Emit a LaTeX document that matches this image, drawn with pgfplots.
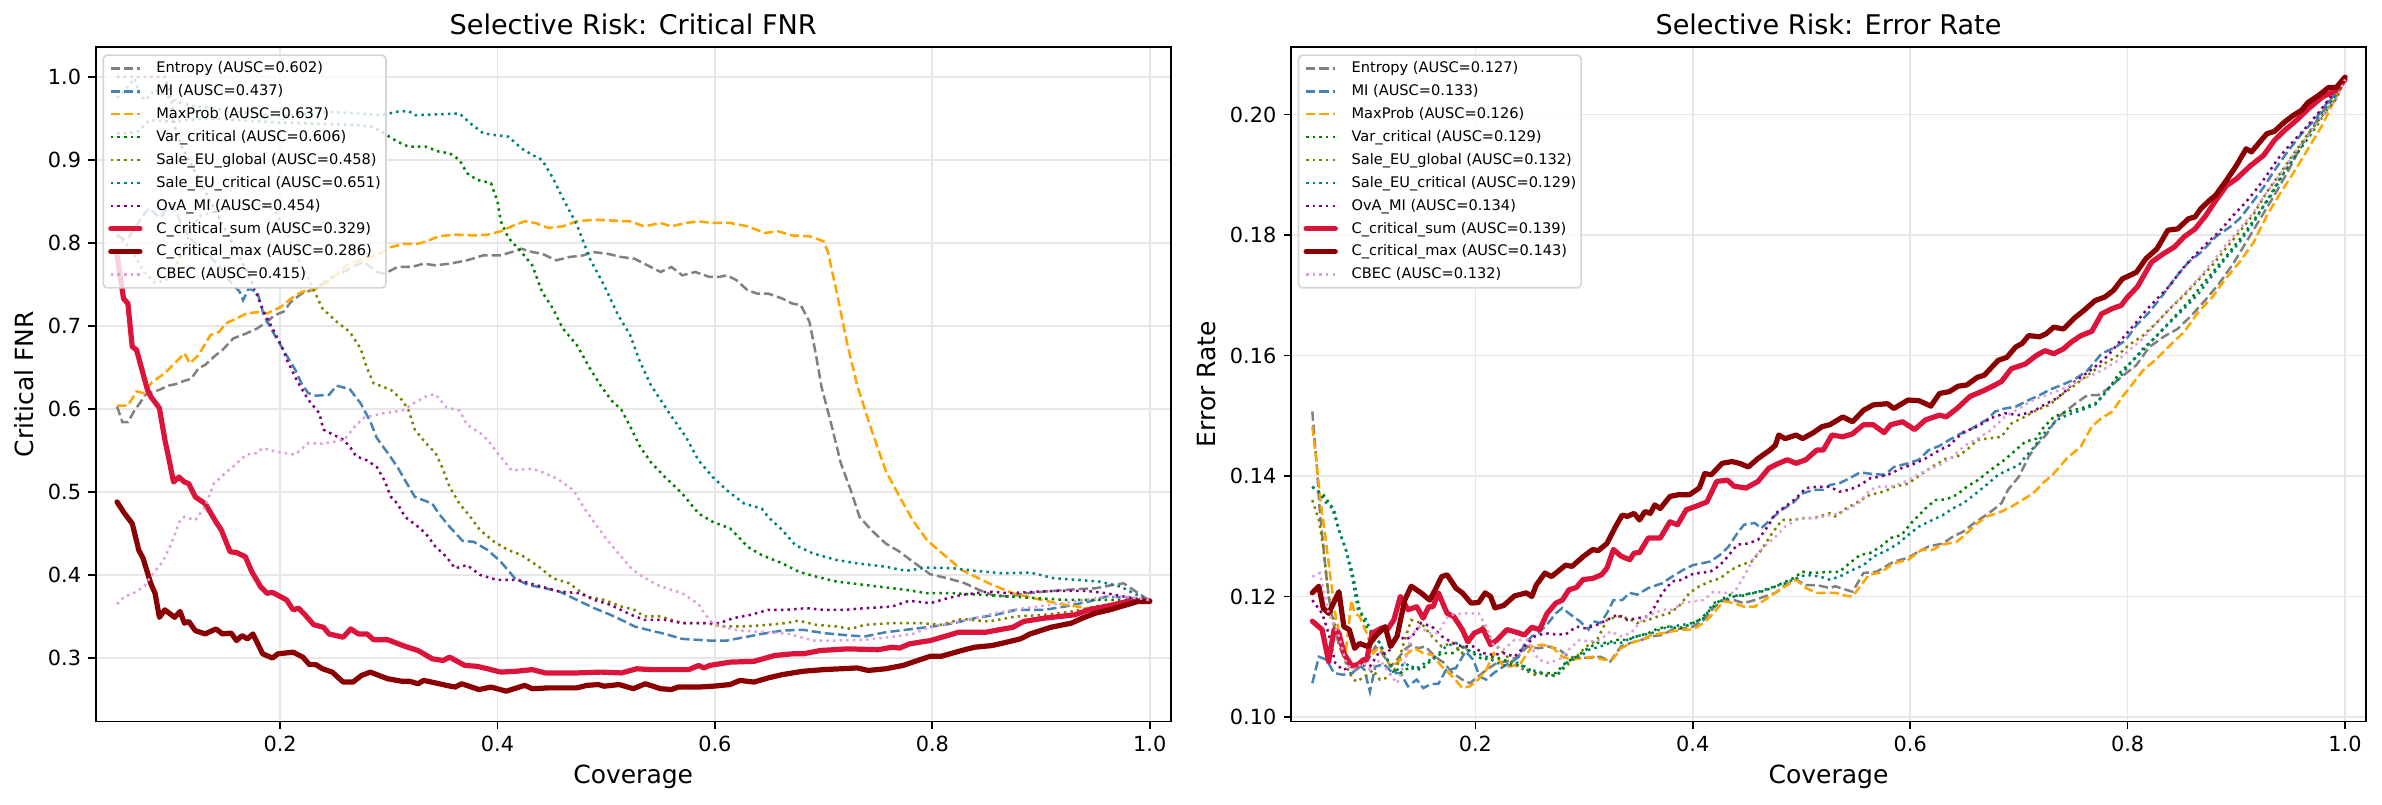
\documentclass[border=0pt]{standalone}
\usepackage{fontspec}
\setmainfont{DejaVu Sans}
\usepackage{pgfplots}
\pgfplotsset{compat=1.18}

\definecolor{cEnt}{HTML}{808080}
\definecolor{cMI}{HTML}{4682B4}
\definecolor{cMax}{HTML}{FFA500}
\definecolor{cVar}{HTML}{008000}
\definecolor{cSEg}{HTML}{808000}
\definecolor{cSEc}{HTML}{008080}
\definecolor{cOvA}{HTML}{800080}
\definecolor{cSum}{HTML}{DC143C}
\definecolor{cMaxC}{HTML}{8B0000}
\definecolor{cCBEC}{HTML}{DDA0DD}
\definecolor{gridc}{RGB}{231,231,231}
\definecolor{legc}{RGB}{214,214,214}

\pgfplotsset{
  dsh/.style={line width=1.2pt, dash pattern=on 4.44pt off 1.92pt},
  dtt/.style={line width=1.2pt, dash pattern=on 1.2pt off 1.98pt},
  thk/.style={line width=2.5pt, line join=round, line cap=round},
  panel/.style={
    scale only axis, width=516pt, height=323.76pt,
    xmin=0.0304, xmax=1.0193,
    xtick={0.2,0.4,0.6,0.8,1.0},
    tick pos=left, tick align=outside,
    major tick length=3.5pt,
    tick style={black, line width=0.8pt},
    axis line style={line width=0.8pt},
    grid=major, grid style={line width=0.8pt, color=gridc},
    /pgf/number format/assume math mode=true,
    scaled ticks=false,
    tick label style={font=\fontsize{10}{12}\selectfont},
    xticklabel style={/pgf/number format/.cd, fixed, fixed zerofill, precision=1},
    label style={font=\fontsize{12}{14}\selectfont},
    title style={font=\fontsize{13}{15}\selectfont, at={(axis description cs:0.5,1)}, anchor=base, yshift=-0.2pt},
    xlabel style={at={(axis description cs:0.5,0)}, anchor=center, yshift=-26.7pt},
    xlabel={Coverage},
    legend cell align=left,
    legend image code/.code={\draw[#1] (0pt,0pt) -- (14pt,0pt); \path (20.6pt,0pt);},
    legend style={
      at={(axis description cs:0,1)}, anchor=north west, xshift=3.2pt, yshift=-3.5pt,
      font=\fontsize{7}{8}\selectfont,
      draw=legc, line width=0.8pt, fill=white, fill opacity=0.8, draw opacity=1, text opacity=1,
      rounded corners=2pt,
      inner xsep=2.4pt, inner ysep=2.8pt,
      row sep=3.9pt, column sep=0pt,
      nodes={inner xsep=0pt, inner ysep=0pt, text height=5.6pt, text depth=1.5pt},
    },
  },
}

\begin{document}
\begin{tikzpicture}
\useasboundingbox (0,0) rectangle (1143.36pt,385.92pt);

% ---------------- Critical FNR ----------------
\begin{axis}[panel, at={(45.94pt,39.6pt)}, anchor=south west,
  ymin=0.2235, ymax=1.036,
  ytick={0.3,0.4,0.5,0.6,0.7,0.8,0.9,1.0},
  yticklabel style={/pgf/number format/.cd, fixed, fixed zerofill, precision=1},
  title={Selective Risk: Critical FNR},
  ylabel={Critical FNR},
  ylabel style={at={(axis description cs:-0.0667,0.5)}, anchor=center},
]
\addplot[cEnt, dsh] coordinates {(0.050,0.603) (0.055,0.584) (0.060,0.584) (0.066,0.598) (0.071,0.607) (0.076,0.617) (0.082,0.620) (0.089,0.623) (0.097,0.628) (0.104,0.630) (0.112,0.634) (0.118,0.636) (0.125,0.649) (0.131,0.653) (0.141,0.665) (0.147,0.671) (0.157,0.685) (0.169,0.691) (0.179,0.697) (0.188,0.705) (0.195,0.713) (0.203,0.717) (0.210,0.729) (0.220,0.739) (0.233,0.745) (0.245,0.757) (0.258,0.765) (0.268,0.772) (0.277,0.777) (0.289,0.765) (0.296,0.763) (0.308,0.771) (0.321,0.771) (0.332,0.775) (0.343,0.773) (0.356,0.775) (0.372,0.779) (0.387,0.785) (0.403,0.785) (0.413,0.789) (0.422,0.793) (0.432,0.789) (0.441,0.787) (0.454,0.779) (0.466,0.783) (0.479,0.785) (0.488,0.789) (0.501,0.787) (0.514,0.783) (0.526,0.781) (0.541,0.771) (0.550,0.765) (0.560,0.771) (0.570,0.761) (0.582,0.765) (0.595,0.759) (0.604,0.759) (0.611,0.761) (0.620,0.755) (0.630,0.743) (0.639,0.739) (0.649,0.739) (0.662,0.733) (0.671,0.727) (0.679,0.725) (0.687,0.705) (0.693,0.665) (0.698,0.627) (0.706,0.587) (0.716,0.534) (0.725,0.502) (0.733,0.470) (0.744,0.454) (0.757,0.438) (0.770,0.428) (0.782,0.416) (0.798,0.401) (0.814,0.396) (0.830,0.390) (0.843,0.382) (0.855,0.376) (0.871,0.374) (0.887,0.378) (0.903,0.380) (0.922,0.382) (0.935,0.383) (0.950,0.384) (0.966,0.388) (0.976,0.390) (0.985,0.382) (1.000,0.369)};
\addlegendentry{Entropy (AUSC=0.602)}
\addplot[cMI, dsh] coordinates {(0.050,0.810) (0.055,0.805) (0.060,0.805) (0.065,0.815) (0.070,0.825) (0.075,0.835) (0.080,0.842) (0.085,0.835) (0.090,0.830) (0.095,0.840) (0.100,0.845) (0.105,0.835) (0.110,0.820) (0.118,0.805) (0.125,0.795) (0.135,0.785) (0.145,0.770) (0.155,0.752) (0.163,0.741) (0.166,0.731) (0.171,0.745) (0.179,0.741) (0.185,0.713) (0.195,0.689) (0.204,0.669) (0.214,0.647) (0.220,0.630) (0.226,0.619) (0.233,0.616) (0.245,0.617) (0.252,0.628) (0.264,0.624) (0.274,0.607) (0.283,0.585) (0.289,0.565) (0.299,0.547) (0.308,0.530) (0.315,0.514) (0.324,0.494) (0.340,0.486) (0.346,0.474) (0.356,0.458) (0.368,0.441) (0.378,0.440) (0.391,0.430) (0.403,0.416) (0.416,0.396) (0.428,0.388) (0.444,0.384) (0.457,0.380) (0.473,0.370) (0.489,0.360) (0.504,0.352) (0.517,0.344) (0.526,0.338) (0.538,0.334) (0.554,0.329) (0.570,0.323) (0.595,0.321) (0.611,0.321) (0.627,0.325) (0.643,0.329) (0.662,0.333) (0.681,0.334) (0.700,0.330) (0.725,0.327) (0.738,0.326) (0.757,0.331) (0.782,0.335) (0.801,0.338) (0.820,0.342) (0.839,0.348) (0.858,0.352) (0.877,0.358) (0.903,0.358) (0.922,0.362) (0.944,0.368) (0.960,0.374) (0.979,0.373) (1.000,0.369)};
\addlegendentry{MI (AUSC=0.437)}
\addplot[cMax, dsh] coordinates {(0.050,0.604) (0.060,0.604) (0.068,0.621) (0.075,0.619) (0.082,0.632) (0.094,0.643) (0.103,0.655) (0.112,0.667) (0.117,0.655) (0.125,0.665) (0.136,0.689) (0.144,0.693) (0.150,0.703) (0.160,0.709) (0.169,0.715) (0.182,0.717) (0.188,0.715) (0.201,0.723) (0.210,0.733) (0.220,0.741) (0.233,0.745) (0.245,0.753) (0.261,0.773) (0.277,0.781) (0.289,0.785) (0.302,0.795) (0.315,0.799) (0.327,0.799) (0.337,0.803) (0.346,0.808) (0.362,0.810) (0.378,0.809) (0.391,0.810) (0.403,0.814) (0.413,0.820) (0.425,0.826) (0.435,0.824) (0.447,0.818) (0.460,0.820) (0.473,0.826) (0.489,0.828) (0.504,0.827) (0.522,0.826) (0.535,0.820) (0.550,0.824) (0.560,0.820) (0.573,0.824) (0.585,0.826) (0.598,0.824) (0.614,0.824) (0.630,0.820) (0.646,0.812) (0.658,0.814) (0.671,0.809) (0.687,0.808) (0.700,0.802) (0.704,0.789) (0.712,0.741) (0.722,0.677) (0.731,0.628) (0.744,0.575) (0.757,0.526) (0.770,0.494) (0.782,0.466) (0.795,0.442) (0.811,0.424) (0.827,0.406) (0.852,0.390) (0.874,0.378) (0.900,0.370) (0.922,0.364) (0.944,0.360) (0.966,0.362) (1.000,0.369)};
\addlegendentry{MaxProb (AUSC=0.637)}
\addplot[cVar, dtt] coordinates {(0.050,0.932) (0.060,0.932) (0.070,0.935) (0.080,0.948) (0.100,0.946) (0.130,0.950) (0.160,0.948) (0.200,0.945) (0.245,0.943) (0.270,0.942) (0.285,0.940) (0.293,0.934) (0.308,0.922) (0.318,0.916) (0.334,0.916) (0.346,0.910) (0.356,0.908) (0.365,0.900) (0.372,0.884) (0.381,0.876) (0.394,0.872) (0.400,0.850) (0.403,0.826) (0.410,0.806) (0.422,0.789) (0.432,0.773) (0.441,0.741) (0.451,0.721) (0.460,0.697) (0.473,0.677) (0.485,0.649) (0.495,0.628) (0.505,0.610) (0.514,0.599) (0.522,0.579) (0.531,0.555) (0.541,0.536) (0.554,0.518) (0.570,0.498) (0.585,0.474) (0.598,0.464) (0.614,0.456) (0.623,0.444) (0.630,0.434) (0.643,0.424) (0.662,0.414) (0.677,0.404) (0.693,0.398) (0.712,0.392) (0.738,0.388) (0.757,0.385) (0.776,0.382) (0.795,0.378) (0.820,0.378) (0.846,0.376) (0.871,0.374) (0.897,0.372) (0.922,0.370) (0.947,0.370) (0.973,0.370) (1.000,0.369)};
\addlegendentry{Var\_critical (AUSC=0.606)}
\addplot[cSEg, dtt] coordinates {(0.050,0.810) (0.058,0.800) (0.066,0.785) (0.075,0.765) (0.085,0.752) (0.095,0.755) (0.105,0.775) (0.115,0.805) (0.125,0.832) (0.140,0.838) (0.160,0.843) (0.180,0.846) (0.195,0.840) (0.205,0.815) (0.215,0.785) (0.226,0.757) (0.239,0.721) (0.252,0.705) (0.264,0.693) (0.274,0.673) (0.280,0.649) (0.286,0.631) (0.302,0.623) (0.312,0.611) (0.318,0.599) (0.324,0.575) (0.334,0.559) (0.343,0.547) (0.349,0.530) (0.356,0.506) (0.365,0.486) (0.375,0.470) (0.384,0.454) (0.397,0.440) (0.410,0.430) (0.422,0.424) (0.438,0.410) (0.451,0.396) (0.466,0.390) (0.482,0.374) (0.498,0.370) (0.514,0.362) (0.526,0.358) (0.535,0.350) (0.550,0.350) (0.570,0.342) (0.592,0.342) (0.608,0.338) (0.627,0.338) (0.649,0.340) (0.665,0.342) (0.677,0.345) (0.693,0.340) (0.712,0.338) (0.725,0.335) (0.738,0.340) (0.763,0.342) (0.789,0.342) (0.808,0.340) (0.827,0.347) (0.852,0.344) (0.877,0.350) (0.903,0.352) (0.928,0.356) (0.950,0.362) (0.973,0.366) (1.000,0.369)};
\addlegendentry{Sale\_EU\_global (AUSC=0.458)}
\addplot[cSEc, dtt] coordinates {(0.050,0.975) (0.058,0.985) (0.066,0.998) (0.071,0.978) (0.076,0.972) (0.085,0.985) (0.094,0.978) (0.105,0.970) (0.120,0.965) (0.140,0.962) (0.160,0.958) (0.180,0.955) (0.200,0.953) (0.220,0.955) (0.245,0.958) (0.270,0.956) (0.293,0.954) (0.308,0.958) (0.318,0.959) (0.324,0.954) (0.346,0.955) (0.365,0.956) (0.375,0.944) (0.387,0.932) (0.397,0.930) (0.410,0.928) (0.422,0.914) (0.432,0.906) (0.441,0.900) (0.451,0.878) (0.460,0.854) (0.473,0.822) (0.485,0.781) (0.498,0.749) (0.511,0.713) (0.522,0.689) (0.531,0.657) (0.541,0.629) (0.550,0.611) (0.560,0.591) (0.573,0.567) (0.585,0.538) (0.598,0.518) (0.611,0.502) (0.627,0.486) (0.643,0.480) (0.649,0.470) (0.662,0.454) (0.674,0.436) (0.690,0.426) (0.712,0.418) (0.731,0.414) (0.757,0.410) (0.776,0.405) (0.795,0.409) (0.820,0.408) (0.839,0.405) (0.865,0.402) (0.890,0.403) (0.912,0.396) (0.935,0.394) (0.954,0.392) (0.973,0.386) (0.985,0.378) (1.000,0.369)};
\addlegendentry{Sale\_EU\_critical (AUSC=0.651)}
\addplot[cOvA, dtt] coordinates {(0.050,1.000) (0.070,1.000) (0.094,1.000) (0.100,0.975) (0.103,0.940) (0.110,0.915) (0.120,0.890) (0.130,0.865) (0.140,0.840) (0.150,0.815) (0.160,0.790) (0.170,0.765) (0.177,0.743) (0.185,0.717) (0.201,0.677) (0.207,0.657) (0.216,0.633) (0.226,0.611) (0.236,0.595) (0.240,0.575) (0.252,0.567) (0.258,0.563) (0.264,0.555) (0.270,0.543) (0.280,0.538) (0.289,0.530) (0.296,0.514) (0.302,0.494) (0.308,0.486) (0.315,0.470) (0.327,0.458) (0.334,0.450) (0.343,0.434) (0.353,0.422) (0.361,0.408) (0.372,0.412) (0.384,0.400) (0.400,0.394) (0.419,0.394) (0.435,0.388) (0.457,0.380) (0.476,0.378) (0.489,0.370) (0.504,0.364) (0.523,0.352) (0.535,0.346) (0.554,0.346) (0.570,0.342) (0.604,0.342) (0.617,0.348) (0.633,0.352) (0.649,0.358) (0.665,0.358) (0.684,0.360) (0.700,0.358) (0.719,0.358) (0.738,0.360) (0.763,0.362) (0.779,0.369) (0.798,0.366) (0.814,0.372) (0.827,0.376) (0.852,0.380) (0.871,0.378) (0.897,0.380) (0.922,0.381) (0.941,0.381) (0.960,0.378) (0.976,0.374) (1.000,0.369)};
\addlegendentry{OvA\_MI (AUSC=0.454)}
\addplot[cSum, thk] coordinates {(0.050,0.785) (0.056,0.733) (0.060,0.727) (0.064,0.675) (0.068,0.671) (0.078,0.623) (0.081,0.615) (0.089,0.601) (0.094,0.563) (0.098,0.538) (0.102,0.512) (0.107,0.518) (0.112,0.512) (0.116,0.510) (0.122,0.494) (0.131,0.486) (0.141,0.464) (0.146,0.454) (0.154,0.428) (0.160,0.427) (0.168,0.422) (0.174,0.404) (0.182,0.386) (0.188,0.378) (0.193,0.379) (0.206,0.370) (0.212,0.358) (0.217,0.360) (0.223,0.352) (0.231,0.340) (0.240,0.337) (0.245,0.329) (0.258,0.325) (0.265,0.335) (0.272,0.329) (0.280,0.329) (0.286,0.322) (0.299,0.322) (0.315,0.314) (0.327,0.309) (0.340,0.299) (0.350,0.297) (0.356,0.301) (0.370,0.291) (0.381,0.290) (0.391,0.287) (0.403,0.283) (0.417,0.284) (0.432,0.286) (0.444,0.282) (0.473,0.282) (0.495,0.283) (0.514,0.282) (0.528,0.287) (0.541,0.286) (0.560,0.286) (0.576,0.286) (0.585,0.291) (0.590,0.288) (0.595,0.291) (0.614,0.295) (0.636,0.296) (0.655,0.303) (0.671,0.305) (0.681,0.305) (0.697,0.309) (0.722,0.311) (0.750,0.310) (0.763,0.313) (0.770,0.312) (0.779,0.317) (0.798,0.321) (0.814,0.327) (0.824,0.331) (0.849,0.331) (0.874,0.337) (0.884,0.344) (0.903,0.348) (0.931,0.352) (0.944,0.358) (0.966,0.364) (0.979,0.368) (1.000,0.369)};
\addlegendentry{C\_critical\_sum (AUSC=0.329)}
\addplot[cMaxC, thk] coordinates {(0.050,0.488) (0.057,0.474) (0.064,0.462) (0.070,0.430) (0.074,0.420) (0.081,0.390) (0.085,0.378) (0.089,0.349) (0.094,0.358) (0.103,0.349) (0.108,0.356) (0.112,0.342) (0.116,0.344) (0.122,0.333) (0.131,0.329) (0.141,0.335) (0.147,0.329) (0.155,0.330) (0.160,0.321) (0.165,0.327) (0.170,0.323) (0.175,0.329) (0.184,0.305) (0.193,0.300) (0.198,0.305) (0.212,0.307) (0.221,0.301) (0.227,0.292) (0.233,0.292) (0.239,0.287) (0.248,0.283) (0.258,0.271) (0.267,0.271) (0.275,0.279) (0.283,0.283) (0.299,0.275) (0.312,0.272) (0.319,0.272) (0.327,0.269) (0.332,0.273) (0.343,0.270) (0.353,0.267) (0.361,0.265) (0.367,0.269) (0.383,0.262) (0.394,0.265) (0.408,0.260) (0.425,0.267) (0.432,0.263) (0.447,0.264) (0.473,0.264) (0.482,0.267) (0.493,0.268) (0.498,0.266) (0.512,0.268) (0.525,0.263) (0.536,0.269) (0.550,0.263) (0.560,0.262) (0.566,0.265) (0.585,0.265) (0.598,0.266) (0.614,0.268) (0.623,0.273) (0.636,0.271) (0.649,0.276) (0.662,0.280) (0.681,0.284) (0.700,0.286) (0.731,0.288) (0.741,0.285) (0.757,0.287) (0.773,0.291) (0.782,0.295) (0.798,0.302) (0.808,0.302) (0.827,0.309) (0.839,0.313) (0.855,0.315) (0.865,0.318) (0.881,0.323) (0.890,0.329) (0.909,0.337) (0.928,0.342) (0.938,0.348) (0.950,0.354) (0.963,0.358) (0.976,0.363) (0.989,0.368) (1.000,0.368)};
\addlegendentry{C\_critical\_max (AUSC=0.286)}
\addplot[cCBEC, dtt] coordinates {(0.050,0.365) (0.057,0.374) (0.065,0.378) (0.075,0.386) (0.081,0.398) (0.092,0.416) (0.100,0.438) (0.108,0.466) (0.112,0.470) (0.122,0.466) (0.131,0.482) (0.139,0.510) (0.149,0.522) (0.158,0.532) (0.169,0.545) (0.179,0.547) (0.184,0.553) (0.195,0.549) (0.203,0.547) (0.214,0.545) (0.226,0.559) (0.239,0.558) (0.252,0.561) (0.259,0.563) (0.270,0.581) (0.278,0.590) (0.296,0.595) (0.312,0.598) (0.323,0.607) (0.334,0.615) (0.342,0.618) (0.346,0.613) (0.353,0.602) (0.365,0.598) (0.372,0.581) (0.384,0.571) (0.392,0.561) (0.400,0.547) (0.413,0.526) (0.432,0.528) (0.441,0.524) (0.455,0.516) (0.470,0.502) (0.479,0.482) (0.492,0.458) (0.501,0.442) (0.514,0.422) (0.523,0.408) (0.531,0.400) (0.547,0.388) (0.560,0.382) (0.570,0.378) (0.579,0.370) (0.585,0.365) (0.590,0.354) (0.598,0.342) (0.609,0.337) (0.623,0.333) (0.649,0.331) (0.668,0.329) (0.690,0.321) (0.712,0.321) (0.738,0.322) (0.760,0.325) (0.782,0.329) (0.798,0.337) (0.817,0.342) (0.836,0.347) (0.858,0.354) (0.874,0.358) (0.897,0.362) (0.919,0.366) (0.941,0.370) (0.960,0.374) (0.979,0.374) (1.000,0.370)};
\addlegendentry{CBEC (AUSC=0.415)}
\end{axis}

% ---------------- Error rate ----------------
\begin{axis}[panel, at={(619.68pt,39.6pt)}, anchor=south west,
  ymin=0.09925, ymax=0.2112,
  ytick={0.10,0.12,0.14,0.16,0.18,0.20},
  yticklabel style={/pgf/number format/.cd, fixed, fixed zerofill, precision=2},
  title={Selective Risk: Error Rate},
  ylabel={Error Rate},
  ylabel style={at={(axis description cs:-0.0784,0.5)}, anchor=center},
]
\addplot[cEnt, dsh] coordinates {(0.050,0.1507) (0.054,0.1421) (0.057,0.1338) (0.062,0.1250) (0.065,0.1200) (0.070,0.1150) (0.075,0.1117) (0.081,0.1090) (0.090,0.1078) (0.097,0.1087) (0.103,0.1100) (0.108,0.1117) (0.114,0.1106) (0.122,0.1084) (0.128,0.1095) (0.135,0.1112) (0.141,0.1120) (0.147,0.1114) (0.154,0.1117) (0.163,0.1100) (0.171,0.1090) (0.179,0.1073) (0.188,0.1062) (0.195,0.1056) (0.201,0.1065) (0.210,0.1078) (0.220,0.1090) (0.229,0.1092) (0.239,0.1100) (0.248,0.1117) (0.258,0.1114) (0.267,0.1117) (0.277,0.1112) (0.286,0.1100) (0.296,0.1098) (0.305,0.1098) (0.315,0.1100) (0.324,0.1092) (0.334,0.1117) (0.343,0.1123) (0.353,0.1128) (0.362,0.1134) (0.372,0.1136) (0.381,0.1145) (0.391,0.1147) (0.400,0.1150) (0.410,0.1161) (0.419,0.1181) (0.428,0.1194) (0.438,0.1194) (0.447,0.1189) (0.457,0.1194) (0.466,0.1200) (0.476,0.1206) (0.485,0.1219) (0.495,0.1228) (0.504,0.1219) (0.514,0.1219) (0.526,0.1214) (0.531,0.1217) (0.541,0.1211) (0.547,0.1208) (0.557,0.1239) (0.569,0.1241) (0.585,0.1258) (0.598,0.1264) (0.608,0.1275) (0.617,0.1283) (0.630,0.1288) (0.639,0.1299) (0.649,0.1308) (0.659,0.1322) (0.668,0.1333) (0.678,0.1346) (0.684,0.1355) (0.690,0.1377) (0.700,0.1399) (0.709,0.1432) (0.716,0.1451) (0.725,0.1468) (0.735,0.1496) (0.744,0.1509) (0.754,0.1523) (0.763,0.1534) (0.773,0.1534) (0.782,0.1545) (0.792,0.1561) (0.808,0.1584) (0.820,0.1614) (0.833,0.1631) (0.846,0.1644) (0.859,0.1667) (0.871,0.1691) (0.884,0.1719) (0.897,0.1752) (0.909,0.1788) (0.922,0.1827) (0.935,0.1866) (0.947,0.1904) (0.960,0.1949) (0.973,0.1987) (0.985,0.2020) (1.000,0.2058)};
\addlegendentry{Entropy (AUSC=0.127)}
\addplot[cMI, dsh] coordinates {(0.050,0.1056) (0.056,0.1100) (0.063,0.1095) (0.070,0.1073) (0.078,0.1070) (0.087,0.1073) (0.0935,0.1087) (0.098,0.1078) (0.103,0.1042) (0.108,0.1084) (0.116,0.1087) (0.124,0.1073) (0.131,0.1073) (0.138,0.1051) (0.146,0.1062) (0.152,0.1048) (0.160,0.1055) (0.166,0.1055) (0.173,0.1078) (0.182,0.1081) (0.191,0.1109) (0.198,0.1095) (0.204,0.1067) (0.210,0.1062) (0.217,0.1073) (0.226,0.1084) (0.234,0.1092) (0.240,0.1100) (0.245,0.1120) (0.252,0.1134) (0.258,0.1139) (0.267,0.1156) (0.274,0.1172) (0.280,0.1181) (0.286,0.1172) (0.296,0.1159) (0.304,0.1145) (0.308,0.1159) (0.315,0.1156) (0.321,0.1172) (0.327,0.1194) (0.335,0.1194) (0.342,0.1206) (0.349,0.1203) (0.359,0.1214) (0.372,0.1222) (0.381,0.1233) (0.391,0.1244) (0.400,0.1252) (0.416,0.1258) (0.425,0.1269) (0.433,0.1283) (0.441,0.1305) (0.447,0.1319) (0.457,0.1322) (0.463,0.1313) (0.471,0.1327) (0.482,0.1344) (0.492,0.1355) (0.501,0.1371) (0.511,0.1377) (0.520,0.1377) (0.526,0.1385) (0.535,0.1388) (0.544,0.1396) (0.554,0.1406) (0.566,0.1403) (0.577,0.1402) (0.585,0.1415) (0.598,0.1421) (0.608,0.1427) (0.617,0.1443) (0.627,0.1450) (0.636,0.1460) (0.646,0.1470) (0.652,0.1473) (0.662,0.1485) (0.671,0.1494) (0.678,0.1507) (0.687,0.1512) (0.697,0.1515) (0.709,0.1526) (0.719,0.1534) (0.728,0.1543) (0.738,0.1550) (0.751,0.1560) (0.763,0.1575) (0.776,0.1603) (0.789,0.1614) (0.798,0.1625) (0.808,0.1650) (0.820,0.1672) (0.833,0.1702) (0.843,0.1727) (0.856,0.1755) (0.868,0.1772) (0.881,0.1797) (0.894,0.1813) (0.903,0.1827) (0.916,0.1857) (0.925,0.1879) (0.935,0.1907) (0.947,0.1938) (0.960,0.1968) (0.973,0.1993) (0.985,0.2023) (0.995,0.2045) (1.000,0.2058)};
\addlegendentry{MI (AUSC=0.133)}
\addplot[cMax, dsh] coordinates {(0.050,0.1482) (0.054,0.1421) (0.057,0.1366) (0.062,0.1299) (0.067,0.1228) (0.071,0.1172) (0.076,0.1128) (0.081,0.1112) (0.086,0.1194) (0.089,0.1172) (0.0935,0.1167) (0.100,0.1139) (0.106,0.1106) (0.112,0.1117) (0.122,0.1084) (0.128,0.1090) (0.138,0.1106) (0.144,0.1114) (0.152,0.1106) (0.160,0.1103) (0.169,0.1084) (0.179,0.1067) (0.188,0.1048) (0.195,0.1051) (0.201,0.1059) (0.210,0.1078) (0.217,0.1106) (0.226,0.1084) (0.233,0.1084) (0.242,0.1090) (0.252,0.1117) (0.261,0.1120) (0.270,0.1117) (0.280,0.1100) (0.289,0.1095) (0.299,0.1098) (0.308,0.1100) (0.318,0.1095) (0.326,0.1095) (0.334,0.1114) (0.343,0.1123) (0.353,0.1128) (0.362,0.1136) (0.372,0.1139) (0.381,0.1142) (0.391,0.1145) (0.400,0.1145) (0.410,0.1156) (0.419,0.1172) (0.428,0.1192) (0.438,0.1189) (0.447,0.1183) (0.457,0.1183) (0.466,0.1194) (0.476,0.1206) (0.485,0.1217) (0.495,0.1228) (0.504,0.1214) (0.514,0.1206) (0.526,0.1206) (0.531,0.1206) (0.541,0.1201) (0.547,0.1200) (0.554,0.1217) (0.562,0.1236) (0.573,0.1240) (0.585,0.1255) (0.598,0.1261) (0.611,0.1278) (0.620,0.1277) (0.630,0.1286) (0.643,0.1291) (0.652,0.1305) (0.662,0.1322) (0.671,0.1333) (0.684,0.1341) (0.693,0.1349) (0.703,0.1360) (0.713,0.1371) (0.722,0.1388) (0.732,0.1404) (0.744,0.1429) (0.757,0.1449) (0.767,0.1482) (0.776,0.1496) (0.786,0.1507) (0.795,0.1531) (0.802,0.1547) (0.814,0.1575) (0.827,0.1595) (0.839,0.1617) (0.852,0.1639) (0.865,0.1672) (0.878,0.1697) (0.890,0.1727) (0.903,0.1755) (0.916,0.1788) (0.928,0.1832) (0.941,0.1871) (0.954,0.1907) (0.966,0.1943) (0.979,0.1982) (0.988,0.2015) (1.000,0.2058)};
\addlegendentry{MaxProb (AUSC=0.126)}
\addplot[cVar, dtt] coordinates {(0.050,0.1382) (0.056,0.1374) (0.060,0.1369) (0.068,0.1349) (0.0745,0.1310) (0.081,0.1277) (0.087,0.1239) (0.0935,0.1178) (0.100,0.1150) (0.106,0.1134) (0.112,0.1123) (0.119,0.1095) (0.125,0.1078) (0.131,0.1073) (0.141,0.1084) (0.150,0.1078) (0.160,0.1095) (0.169,0.1106) (0.179,0.1106) (0.188,0.1117) (0.198,0.1106) (0.207,0.1095) (0.217,0.1100) (0.226,0.1095) (0.236,0.1087) (0.245,0.1084) (0.255,0.1073) (0.264,0.1073) (0.274,0.1073) (0.283,0.1090) (0.293,0.1100) (0.302,0.1112) (0.312,0.1123) (0.321,0.1123) (0.331,0.1128) (0.340,0.1128) (0.349,0.1134) (0.359,0.1139) (0.368,0.1147) (0.378,0.1150) (0.387,0.1147) (0.397,0.1153) (0.406,0.1161) (0.416,0.1178) (0.425,0.1194) (0.435,0.1203) (0.444,0.1200) (0.454,0.1206) (0.463,0.1208) (0.473,0.1214) (0.482,0.1222) (0.492,0.1230) (0.501,0.1241) (0.511,0.1239) (0.526,0.1241) (0.535,0.1241) (0.544,0.1255) (0.554,0.1269) (0.563,0.1272) (0.573,0.1283) (0.582,0.1297) (0.592,0.1302) (0.601,0.1322) (0.614,0.1346) (0.623,0.1360) (0.633,0.1361) (0.643,0.1369) (0.652,0.1382) (0.662,0.1393) (0.674,0.1410) (0.687,0.1427) (0.697,0.1443) (0.706,0.1457) (0.716,0.1462) (0.722,0.1479) (0.732,0.1498) (0.744,0.1507) (0.757,0.1512) (0.770,0.1520) (0.776,0.1531) (0.786,0.1554) (0.792,0.1570) (0.805,0.1592) (0.817,0.1614) (0.830,0.1639) (0.843,0.1664) (0.856,0.1689) (0.868,0.1716) (0.881,0.1744) (0.894,0.1772) (0.906,0.1799) (0.919,0.1832) (0.932,0.1866) (0.944,0.1904) (0.957,0.1938) (0.970,0.1971) (0.982,0.2004) (0.992,0.2032) (1.000,0.2058)};
\addlegendentry{Var\_critical (AUSC=0.129)}
\addplot[cSEg, dtt] coordinates {(0.050,0.1360) (0.056,0.1327) (0.060,0.1283) (0.065,0.1200) (0.071,0.1150) (0.078,0.1106) (0.084,0.1073) (0.090,0.1059) (0.097,0.1065) (0.106,0.1078) (0.112,0.1062) (0.119,0.1065) (0.128,0.1084) (0.135,0.1128) (0.141,0.1161) (0.150,0.1156) (0.160,0.1134) (0.169,0.1117) (0.179,0.1123) (0.188,0.1106) (0.198,0.1134) (0.207,0.1150) (0.217,0.1123) (0.226,0.1106) (0.236,0.1087) (0.245,0.1078) (0.255,0.1070) (0.264,0.1073) (0.274,0.1067) (0.283,0.1084) (0.293,0.1100) (0.302,0.1117) (0.312,0.1128) (0.321,0.1161) (0.331,0.1167) (0.340,0.1164) (0.349,0.1156) (0.359,0.1161) (0.368,0.1167) (0.378,0.1172) (0.387,0.1183) (0.397,0.1206) (0.406,0.1217) (0.416,0.1225) (0.425,0.1230) (0.435,0.1244) (0.444,0.1252) (0.454,0.1258) (0.463,0.1277) (0.473,0.1305) (0.482,0.1327) (0.492,0.1327) (0.501,0.1330) (0.511,0.1330) (0.526,0.1338) (0.531,0.1333) (0.541,0.1346) (0.550,0.1355) (0.563,0.1369) (0.576,0.1374) (0.585,0.1382) (0.598,0.1387) (0.611,0.1404) (0.620,0.1415) (0.633,0.1429) (0.643,0.1432) (0.652,0.1443) (0.662,0.1460) (0.671,0.1462) (0.684,0.1465) (0.693,0.1487) (0.703,0.1496) (0.716,0.1509) (0.728,0.1518) (0.741,0.1537) (0.751,0.1550) (0.763,0.1567) (0.776,0.1584) (0.789,0.1597) (0.801,0.1617) (0.814,0.1633) (0.827,0.1655) (0.839,0.1678) (0.852,0.1700) (0.865,0.1725) (0.878,0.1750) (0.890,0.1777) (0.903,0.1805) (0.916,0.1835) (0.928,0.1871) (0.941,0.1904) (0.954,0.1938) (0.966,0.1968) (0.979,0.1998) (0.992,0.2026) (1.000,0.2058)};
\addlegendentry{Sale\_EU\_global (AUSC=0.132)}
\addplot[cSEc, dtt] coordinates {(0.050,0.1382) (0.057,0.1371) (0.063,0.1355) (0.070,0.1344) (0.0745,0.1310) (0.081,0.1277) (0.087,0.1228) (0.092,0.1178) (0.098,0.1167) (0.105,0.1139) (0.112,0.1123) (0.119,0.1095) (0.125,0.1073) (0.135,0.1090) (0.144,0.1078) (0.154,0.1090) (0.163,0.1100) (0.173,0.1117) (0.182,0.1123) (0.191,0.1112) (0.201,0.1106) (0.210,0.1100) (0.220,0.1090) (0.229,0.1084) (0.239,0.1090) (0.248,0.1078) (0.258,0.1076) (0.267,0.1067) (0.277,0.1073) (0.286,0.1095) (0.296,0.1100) (0.305,0.1112) (0.315,0.1117) (0.324,0.1123) (0.334,0.1123) (0.343,0.1131) (0.353,0.1136) (0.362,0.1139) (0.372,0.1147) (0.381,0.1150) (0.391,0.1153) (0.400,0.1156) (0.410,0.1164) (0.419,0.1189) (0.428,0.1194) (0.438,0.1200) (0.447,0.1203) (0.457,0.1206) (0.466,0.1211) (0.476,0.1217) (0.485,0.1222) (0.495,0.1230) (0.504,0.1236) (0.517,0.1233) (0.526,0.1228) (0.535,0.1233) (0.547,0.1244) (0.557,0.1252) (0.566,0.1266) (0.579,0.1277) (0.589,0.1288) (0.598,0.1302) (0.608,0.1316) (0.617,0.1324) (0.630,0.1335) (0.639,0.1346) (0.649,0.1355) (0.659,0.1369) (0.668,0.1382) (0.681,0.1402) (0.690,0.1410) (0.700,0.1418) (0.706,0.1432) (0.713,0.1446) (0.722,0.1468) (0.735,0.1493) (0.744,0.1501) (0.757,0.1509) (0.770,0.1518) (0.779,0.1537) (0.786,0.1552) (0.792,0.1561) (0.801,0.1584) (0.814,0.1611) (0.827,0.1633) (0.839,0.1655) (0.852,0.1678) (0.865,0.1702) (0.878,0.1733) (0.890,0.1761) (0.903,0.1788) (0.916,0.1821) (0.928,0.1857) (0.941,0.1896) (0.954,0.1932) (0.966,0.1965) (0.979,0.2001) (0.992,0.2032) (1.000,0.2058)};
\addlegendentry{Sale\_EU\_critical (AUSC=0.129)}
\addplot[cOvA, dtt] coordinates {(0.050,0.1194) (0.059,0.1172) (0.065,0.1139) (0.071,0.1090) (0.078,0.1078) (0.087,0.1084) (0.0935,0.1087) (0.103,0.1084) (0.111,0.1106) (0.117,0.1106) (0.122,0.1112) (0.128,0.1139) (0.135,0.1128) (0.142,0.1134) (0.150,0.1156) (0.160,0.1150) (0.169,0.1134) (0.179,0.1123) (0.188,0.1117) (0.198,0.1117) (0.207,0.1106) (0.217,0.1103) (0.226,0.1106) (0.236,0.1100) (0.245,0.1117) (0.255,0.1134) (0.264,0.1139) (0.274,0.1137) (0.283,0.1137) (0.293,0.1150) (0.302,0.1147) (0.312,0.1153) (0.321,0.1161) (0.331,0.1170) (0.340,0.1161) (0.349,0.1164) (0.359,0.1167) (0.365,0.1183) (0.372,0.1206) (0.381,0.1225) (0.391,0.1228) (0.397,0.1236) (0.406,0.1239) (0.416,0.1241) (0.425,0.1252) (0.432,0.1266) (0.441,0.1286) (0.451,0.1288) (0.460,0.1294) (0.470,0.1319) (0.476,0.1338) (0.485,0.1349) (0.495,0.1363) (0.504,0.1380) (0.514,0.1382) (0.526,0.1382) (0.535,0.1374) (0.544,0.1377) (0.554,0.1385) (0.563,0.1396) (0.573,0.1399) (0.582,0.1404) (0.592,0.1413) (0.601,0.1418) (0.614,0.1429) (0.627,0.1443) (0.636,0.1451) (0.649,0.1473) (0.662,0.1482) (0.674,0.1496) (0.687,0.1504) (0.700,0.1501) (0.713,0.1507) (0.725,0.1520) (0.735,0.1529) (0.744,0.1543) (0.751,0.1556) (0.770,0.1581) (0.782,0.1600) (0.795,0.1628) (0.808,0.1655) (0.817,0.1675) (0.827,0.1694) (0.839,0.1716) (0.849,0.1741) (0.859,0.1761) (0.871,0.1783) (0.884,0.1805) (0.897,0.1832) (0.909,0.1855) (0.919,0.1877) (0.928,0.1899) (0.938,0.1926) (0.950,0.1951) (0.963,0.1976) (0.976,0.2004) (0.988,0.2032) (1.000,0.2058)};
\addlegendentry{OvA\_MI (AUSC=0.134)}
\addplot[cSum, thk] coordinates {(0.050,0.1159) (0.059,0.1145) (0.065,0.1092) (0.070,0.1145) (0.0745,0.1139) (0.079,0.1106) (0.086,0.1085) (0.092,0.1087) (0.097,0.1095) (0.100,0.1095) (0.105,0.1139) (0.111,0.1145) (0.114,0.1148) (0.119,0.1145) (0.125,0.1161) (0.131,0.1200) (0.138,0.1178) (0.146,0.1183) (0.152,0.1164) (0.157,0.1183) (0.161,0.1183) (0.166,0.1206) (0.174,0.1172) (0.180,0.1167) (0.188,0.1145) (0.193,0.1125) (0.199,0.1139) (0.207,0.1146) (0.214,0.1120) (0.220,0.1128) (0.229,0.1145) (0.239,0.1140) (0.245,0.1136) (0.252,0.1149) (0.259,0.1145) (0.266,0.1172) (0.274,0.1189) (0.280,0.1194) (0.286,0.1211) (0.293,0.1215) (0.299,0.1228) (0.308,0.1230) (0.316,0.1236) (0.321,0.1247) (0.327,0.1278) (0.334,0.1267) (0.342,0.1261) (0.346,0.1272) (0.351,0.1273) (0.359,0.1297) (0.370,0.1297) (0.379,0.1324) (0.386,0.1319) (0.394,0.1344) (0.402,0.1349) (0.413,0.1357) (0.422,0.1391) (0.432,0.1393) (0.438,0.1383) (0.449,0.1380) (0.460,0.1391) (0.470,0.1413) (0.479,0.1421) (0.487,0.1427) (0.495,0.1421) (0.504,0.1427) (0.514,0.1443) (0.520,0.1443) (0.528,0.1468) (0.538,0.1465) (0.547,0.1470) (0.557,0.1485) (0.566,0.1485) (0.576,0.1472) (0.582,0.1485) (0.593,0.1490) (0.604,0.1477) (0.614,0.1493) (0.627,0.1501) (0.633,0.1498) (0.643,0.1512) (0.655,0.1532) (0.668,0.1542) (0.678,0.1551) (0.684,0.1557) (0.693,0.1578) (0.706,0.1586) (0.716,0.1600) (0.724,0.1608) (0.732,0.1603) (0.741,0.1611) (0.748,0.1622) (0.757,0.1633) (0.767,0.1640) (0.776,0.1669) (0.786,0.1678) (0.794,0.1683) (0.800,0.1697) (0.809,0.1714) (0.822,0.1755) (0.833,0.1769) (0.843,0.1780) (0.852,0.1797) (0.862,0.1810) (0.871,0.1830) (0.881,0.1857) (0.891,0.1882) (0.900,0.1893) (0.913,0.1915) (0.925,0.1932) (0.935,0.1957) (0.944,0.1973) (0.957,0.1993) (0.966,0.2009) (0.979,0.2029) (0.992,0.2040) (1.000,0.2058)};
\addlegendentry{C\_critical\_sum (AUSC=0.139)}
\addplot[cMaxC, thk] coordinates {(0.050,0.1206) (0.056,0.1217) (0.060,0.1181) (0.065,0.1172) (0.0745,0.1208) (0.079,0.1150) (0.084,0.1145) (0.089,0.1114) (0.0935,0.1122) (0.101,0.1117) (0.109,0.1136) (0.117,0.1150) (0.122,0.1117) (0.128,0.1134) (0.135,0.1194) (0.141,0.1217) (0.150,0.1206) (0.158,0.1194) (0.163,0.1211) (0.169,0.1233) (0.174,0.1236) (0.182,0.1214) (0.188,0.1206) (0.196,0.1189) (0.203,0.1190) (0.209,0.1206) (0.214,0.1200) (0.218,0.1181) (0.226,0.1185) (0.236,0.1201) (0.247,0.1206) (0.252,0.1200) (0.256,0.1219) (0.264,0.1239) (0.270,0.1233) (0.283,0.1252) (0.289,0.1250) (0.299,0.1266) (0.308,0.1278) (0.313,0.1276) (0.321,0.1288) (0.329,0.1316) (0.335,0.1335) (0.340,0.1333) (0.346,0.1338) (0.351,0.1327) (0.356,0.1341) (0.361,0.1338) (0.365,0.1352) (0.370,0.1346) (0.379,0.1366) (0.387,0.1369) (0.397,0.1369) (0.406,0.1380) (0.411,0.1404) (0.417,0.1402) (0.427,0.1421) (0.436,0.1424) (0.443,0.1421) (0.451,0.1415) (0.460,0.1429) (0.471,0.1443) (0.476,0.1451) (0.479,0.1468) (0.485,0.1462) (0.495,0.1468) (0.501,0.1462) (0.511,0.1472) (0.519,0.1482) (0.526,0.1485) (0.538,0.1498) (0.547,0.1490) (0.557,0.1509) (0.566,0.1518) (0.579,0.1520) (0.585,0.1512) (0.598,0.1526) (0.608,0.1525) (0.619,0.1516) (0.627,0.1537) (0.636,0.1540) (0.644,0.1549) (0.652,0.1551) (0.662,0.1564) (0.668,0.1567) (0.681,0.1592) (0.689,0.1597) (0.697,0.1614) (0.703,0.1620) (0.709,0.1633) (0.719,0.1631) (0.725,0.1636) (0.732,0.1647) (0.741,0.1644) (0.751,0.1662) (0.760,0.1675) (0.770,0.1691) (0.779,0.1697) (0.787,0.1708) (0.795,0.1727) (0.808,0.1738) (0.817,0.1761) (0.827,0.1777) (0.837,0.1808) (0.846,0.1810) (0.856,0.1827) (0.862,0.1830) (0.867,0.1843) (0.875,0.1857) (0.881,0.1866) (0.891,0.1891) (0.900,0.1915) (0.909,0.1943) (0.914,0.1938) (0.920,0.1951) (0.928,0.1968) (0.935,0.1972) (0.944,0.1987) (0.952,0.1998) (0.960,0.2007) (0.966,0.2020) (0.976,0.2032) (0.985,0.2045) (0.992,0.2045) (1.000,0.2062)};
\addlegendentry{C\_critical\_max (AUSC=0.143)}
\addplot[cCBEC, dtt] coordinates {(0.050,0.1233) (0.057,0.1239) (0.065,0.1172) (0.0745,0.1134) (0.081,0.1090) (0.087,0.1078) (0.097,0.1090) (0.103,0.1078) (0.112,0.1095) (0.122,0.1070) (0.128,0.1056) (0.135,0.1090) (0.141,0.1136) (0.149,0.1150) (0.157,0.1139) (0.166,0.1139) (0.173,0.1164) (0.179,0.1170) (0.191,0.1172) (0.203,0.1172) (0.210,0.1150) (0.217,0.1117) (0.226,0.1112) (0.236,0.1128) (0.248,0.1128) (0.258,0.1095) (0.267,0.1090) (0.277,0.1095) (0.286,0.1112) (0.296,0.1128) (0.305,0.1125) (0.315,0.1128) (0.324,0.1142) (0.334,0.1134) (0.343,0.1139) (0.353,0.1161) (0.362,0.1170) (0.372,0.1178) (0.381,0.1178) (0.391,0.1189) (0.400,0.1192) (0.410,0.1194) (0.419,0.1208) (0.428,0.1206) (0.438,0.1206) (0.447,0.1233) (0.457,0.1266) (0.466,0.1283) (0.476,0.1299) (0.485,0.1316) (0.495,0.1327) (0.504,0.1330) (0.514,0.1330) (0.526,0.1335) (0.535,0.1338) (0.544,0.1346) (0.554,0.1357) (0.563,0.1377) (0.573,0.1383) (0.582,0.1382) (0.592,0.1388) (0.601,0.1396) (0.614,0.1409) (0.627,0.1418) (0.639,0.1432) (0.649,0.1449) (0.662,0.1462) (0.674,0.1476) (0.687,0.1498) (0.700,0.1512) (0.713,0.1526) (0.725,0.1534) (0.738,0.1543) (0.751,0.1554) (0.776,0.1575) (0.789,0.1589) (0.801,0.1608) (0.814,0.1628) (0.827,0.1655) (0.839,0.1678) (0.852,0.1702) (0.865,0.1727) (0.878,0.1755) (0.890,0.1783) (0.903,0.1810) (0.916,0.1838) (0.928,0.1871) (0.941,0.1902) (0.954,0.1938) (0.966,0.1965) (0.979,0.1998) (0.992,0.2026) (1.000,0.2058)};
\addlegendentry{CBEC (AUSC=0.132)}
\end{axis}
\end{tikzpicture}
\end{document}
